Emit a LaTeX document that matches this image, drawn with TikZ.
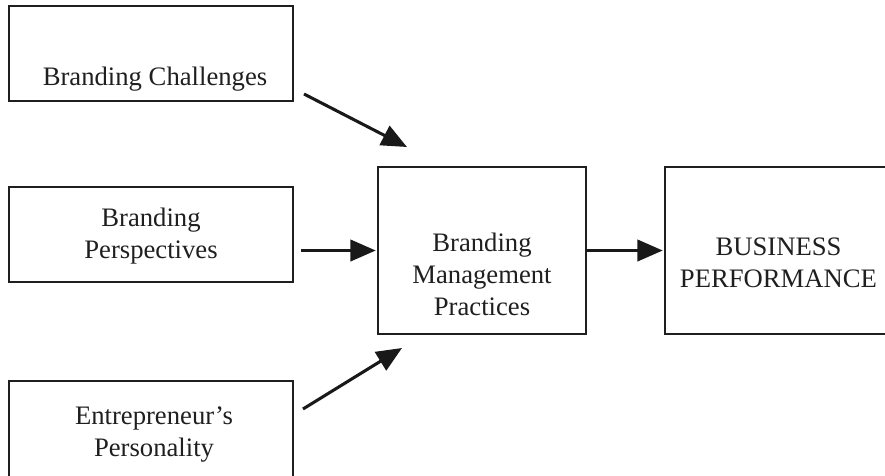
\documentclass[tikz,border=0pt]{standalone}
\usepackage{fontspec}
\setmainfont{Liberation Serif}
\usetikzlibrary{arrows.meta}
\begin{document}
\begin{tikzpicture}[x=0.75pt,y=-0.75pt,
  box/.style={draw=black!88,line width=1.9pt,rectangle,inner sep=0pt},
  lbl/.style={align=center,anchor=base,inner sep=0pt,
    font=\fontsize{20}{23.7}\selectfont,text=black!88},
  arr/.style={draw=black!90,line width=2.3pt,
    -{Triangle[length=19pt,width=16pt]}}]
  \path[use as bounding box] (0,0) rectangle (885,475);
  \clip (0,0) rectangle (885,475);

  % input boxes on the left (the base anchor sits on the last line)
  \node[box,minimum width=213pt,minimum height=71.25pt] (bc) at (151,53.5) {};
  \node[lbl] (bctext) at (155,85) {Branding Challenges};

  \node[box,minimum width=213pt,minimum height=71.25pt] (bp) at (151,234.5) {};
  \node[lbl] (bptext) at (151,258) {Branding\\Perspectives};

  \node[box,minimum width=213pt,minimum height=76.5pt] (ep) at (151,432) {};
  \node[lbl] (eptext) at (154,456) {Entrepreneur’s\\Personality};

  % central box and outcome box
  \node[box,minimum width=156pt,minimum height=125.25pt] (mbp) at (482,250.5) {};
  \node[lbl] (mbptext) at (482,315) {Branding\\Management\\Practices};

  \node[box,minimum width=170.25pt,minimum height=125.25pt] (bus) at (778.5,250.5) {};
  \node[lbl] (bustext) at (778.5,287.3) {BUSINESS\\PERFORMANCE};

  % connectors
  \coordinate (a1s) at (304,94);
  \coordinate (a1e) at (407,147);
  \coordinate (a3s) at (303,409);
  \coordinate (a3e) at (402,348);

  \draw[arr] (a1s) -- (a1e);
  \draw[arr,shorten >=0.75pt] ([xshift=5.25pt]bp.east |- mbp.west) -- (mbp.west);
  \draw[arr] (a3s) -- (a3e);
  \draw[arr,shorten >=0.75pt] (mbp.east) -- (bus.west);
\end{tikzpicture}
\end{document}
